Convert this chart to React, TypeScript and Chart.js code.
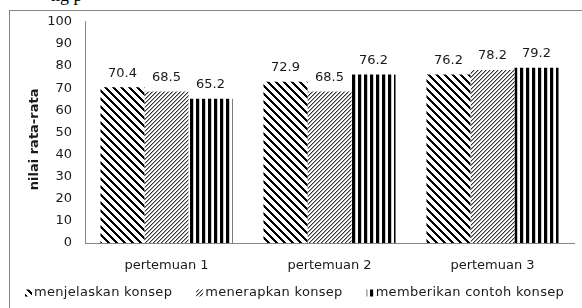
import React, { useEffect, useRef } from 'react';
import { Chart, registerables } from 'chart.js';

Chart.register(...registerables);

const categories = ['pertemuan 1', 'pertemuan 2', 'pertemuan 3'];
const seriesNames = ['menjelaskan konsep', 'menerapkan konsep', 'memberikan contoh konsep'];
const menjelaskan = [70.4, 72.9, 76.2];
const menerapkan = [68.5, 68.5, 78.2];
const memberikan = [65.2, 76.2, 79.2];
const yMin = 0;
const yMax = 100;
const yStep = 10;
const yTitle = 'nilai rata-rata';
const captionFragment = 'ng p';

const FONT = '"DejaVu Sans", sans-serif';
const TEXT = '#1a1a1a';
const AXIS = '#868686';

function makePattern(kind: string): CanvasPattern | string {
  const size = kind === 'vert' ? 6 : 8;
  const c = document.createElement('canvas');
  c.width = size;
  c.height = size;
  const cx = c.getContext('2d');
  if (!cx) return '#000';
  const img = cx.createImageData(size, size);
  for (let y = 0; y < size; y++) {
    for (let x = 0; x < size; x++) {
      let v = 255;
      if (kind === 'wideDown') {
        const d = (x - y + 64) % 8;
        if (d < 3) v = 0;
      } else if (kind === 'upDiag') {
        const d = (x + y) % 4;
        if (d === 0) v = 50;
        else if (d === 1) v = 170;
      } else {
        const d = x % 6;
        if (d < 3) v = 0;
        else if (d === 3) v = 200;
      }
      const i = (y * size + x) * 4;
      img.data[i] = v;
      img.data[i + 1] = v;
      img.data[i + 2] = v;
      img.data[i + 3] = 255;
    }
  }
  cx.putImageData(img, 0, 0);
  return cx.createPattern(c, 'repeat') || '#000';
}

const valueLabels = {
  id: 'valueLabels',
  afterDatasetsDraw(chart: any) {
    const { ctx } = chart;
    ctx.save();
    ctx.font = `13px ${FONT}`;
    ctx.fillStyle = TEXT;
    ctx.textAlign = 'center';
    ctx.textBaseline = 'middle';
    chart.data.datasets.forEach((ds: any, i: number) => {
      const meta = chart.getDatasetMeta(i);
      meta.data.forEach((bar: any, j: number) => {
        ctx.fillText(Number(ds.data[j]).toFixed(1), bar.x, bar.y - 14);
      });
    });
    ctx.restore();
  },
};

const axisTitle = {
  id: 'axisTitle',
  afterDraw(chart: any) {
    const { ctx, chartArea } = chart;
    ctx.save();
    ctx.font = `bold 13px ${FONT}`;
    ctx.fillStyle = TEXT;
    ctx.textAlign = 'center';
    ctx.textBaseline = 'middle';
    ctx.translate(25, (chartArea.top + chartArea.bottom) / 2 + 7);
    ctx.rotate(-Math.PI / 2);
    ctx.fillText(yTitle, 0, 0);
    ctx.restore();
  },
};

const customLegend = {
  id: 'customLegend',
  afterDraw(chart: any) {
    const { ctx } = chart;
    ctx.save();
    ctx.font = `13px ${FONT}`;
    (ctx as any).letterSpacing = '0.3px';
    ctx.textBaseline = 'middle';
    ctx.textAlign = 'left';
    const y = chart.height - 15;
    let x = 15;
    chart.data.datasets.forEach((ds: any) => {
      ctx.fillStyle = ds.backgroundColor;
      ctx.fillRect(x, y - 3.5, 7, 7);
      ctx.fillStyle = TEXT;
      ctx.fillText(ds.label, x + 9, y);
      x += 9 + ctx.measureText(ds.label).width + 24;
    });
    ctx.restore();
  },
};

export default function App() {
  const ref = useRef<HTMLCanvasElement | null>(null);

  useEffect(() => {
    if (!ref.current) return;
    const p1 = makePattern('wideDown');
    const p2 = makePattern('upDiag');
    const p3 = makePattern('vert');
    const values = [menjelaskan, menerapkan, memberikan];
    const fills = [p1, p2, p3];
    const chart = new Chart(ref.current, {
      type: 'bar',
      data: {
        labels: categories,
        datasets: values.map((d, i) => ({
          label: seriesNames[i],
          data: d,
          backgroundColor: fills[i] as any,
          borderWidth: 0,
          categoryPercentage: 0.81,
          barPercentage: 1,
        })),
      },
      options: {
        responsive: false,
        maintainAspectRatio: false,
        animation: false,
        layout: { padding: { top: 0, right: 8, left: 0, bottom: 32 } },
        plugins: {
          tooltip: { enabled: false },
          legend: { display: false },
        },
        scales: {
          x: {
            grid: { display: false, drawTicks: false },
            border: { display: true, color: AXIS, width: 1 },
            ticks: { color: TEXT, font: { family: FONT, size: 13 }, padding: 15 },
            afterFit: (s: any) => {
              s.height = 33;
            },
          },
          y: {
            min: yMin,
            max: yMax,
            grid: { display: false, drawTicks: false },
            border: { display: true, color: AXIS, width: 1 },
            ticks: { stepSize: yStep, color: TEXT, font: { family: FONT, size: 13 }, padding: 13 },
            afterFit: (s: any) => {
              s.width = 75;
            },
          },
        },
      },
      plugins: [valueLabels, axisTitle, customLegend],
    });
    return () => chart.destroy();
  }, []);

  return (
    <div style={{ position: 'absolute', left: 0, top: 0, width: 582, height: 308, overflow: 'hidden', background: '#fff' }}>
      <span
        style={{
          position: 'absolute',
          left: 51,
          top: -15,
          font: '18px "Liberation Serif", serif',
          lineHeight: 'normal',
          whiteSpace: 'nowrap',
          color: '#000',
        }}
      >
        {captionFragment}
      </span>
      <div
        style={{
          position: 'absolute',
          left: 9,
          top: 10,
          width: 573,
          height: 298,
          borderTop: `1px solid ${AXIS}`,
          borderLeft: `1px solid ${AXIS}`,
          boxSizing: 'border-box',
        }}
      />
      <canvas
        ref={ref}
        width={572}
        height={307}
        style={{ position: 'absolute', left: 10, top: 1, display: 'block', width: 572, height: 307 }}
      />
    </div>
  );
}
